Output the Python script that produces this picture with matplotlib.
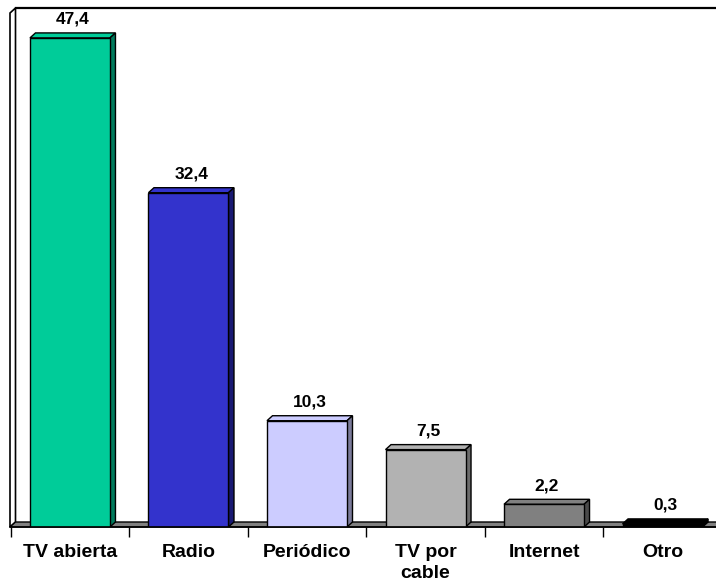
import matplotlib
matplotlib.use('Agg')
import matplotlib.pyplot as plt
from matplotlib.patches import Polygon

plt.rcParams['font.family'] = ['Liberation Sans', 'DejaVu Sans']

# 数据
categorias = ['TV abierta', 'Radio', 'Periódico', 'TV por\ncable', 'Internet', 'Otro']
valores = [47.4, 32.4, 10.3, 7.5, 2.2, 0.3]
colores = ['#00CC99', '#3333CC', '#CCCCFF', '#B2B2B2', '#808080', '#000000']
laterales = ['#007A5C', '#1A1A73', '#7A7A99', '#6B6B6B', '#4A4A4A', '#000000']

fig = plt.figure(figsize=(7.16, 5.85), dpi=100)
W, H = 716, 585
# 坐标区: 像素 x 10..716, y 8..527
ax = fig.add_axes([10 / W, (H - 527) / H, (716 - 10) / W, (527 - 8) / H])

x0, x1 = -0.506, 5.451
y0, y1 = 0, 50.3
ax.set_xlim(x0, x1)
ax.set_ylim(y0, y1)

# 3D 深度 (像素 -> 数据)
px_x = (x1 - x0) / (716 - 10)
px_y = (y1 - y0) / (527 - 8)
dx = 5.5 * px_x
dy = 5.0 * px_y
w = 0.675

# 左墙
ytop = y1
ax.add_patch(Polygon([(x0, 0), (x0 + dx, dy), (x0 + dx, ytop), (x0, ytop - dy)],
                     closed=True, facecolor='white', edgecolor='black', lw=1.2,
                     clip_on=False, zorder=1))
ax.plot([x0 + dx, x1 + 0.1], [ytop, ytop], color='black', lw=1.6, clip_on=False, zorder=1)

# 地板
ax.add_patch(Polygon([(x0, 0), (x0 + dx, dy), (x1 + 0.1, dy), (x1 + 0.1, 0)],
                     closed=True, facecolor='#808080', edgecolor='black', lw=1.0,
                     clip_on=False, zorder=2))

xs = list(range(len(valores)))
ax.bar(xs, valores, width=w, color=colores, edgecolor='black', lw=1.0, zorder=4)
for x, v, c, s in zip(xs, valores, colores, laterales):
    xl, xr = x - w / 2, x + w / 2
    top = Polygon([(xl, v), (xl + dx, v + dy), (xr + dx, v + dy), (xr, v)],
                  closed=True, facecolor=c, edgecolor='black', lw=1.0, zorder=3)
    side = Polygon([(xr, 0), (xr + dx, dy), (xr + dx, v + dy), (xr, v)],
                   closed=True, facecolor=s, edgecolor='black', lw=1.0, zorder=3)
    ax.add_patch(top)
    ax.add_patch(side)
    ax.annotate(f'{v:.1f}'.replace('.', ','), (x + dx / 2, v + dy),
                xytext=(0, 4.5), textcoords='offset points', ha='center', va='bottom',
                fontsize=12.5, fontweight='bold', zorder=5)

for sp in ['left', 'right', 'top']:
    ax.spines[sp].set_visible(False)
ax.spines['bottom'].set_zorder(5)
ax.spines['bottom'].set_linewidth(1.2)
ax.set_yticks([])

bordes = [i - 0.5 for i in range(len(valores))]
ax.set_xticks(bordes)
ax.set_xticklabels([])
ax.tick_params(axis='x', which='major', length=7, width=1.0, direction='out')
ax.set_xticks(xs, minor=True)
ax.set_xticklabels(categorias, minor=True, fontsize=14, fontweight='bold', linespacing=1.3)
ax.tick_params(axis='x', which='minor', length=0, pad=12)

plt.savefig('out.png', dpi=100)
